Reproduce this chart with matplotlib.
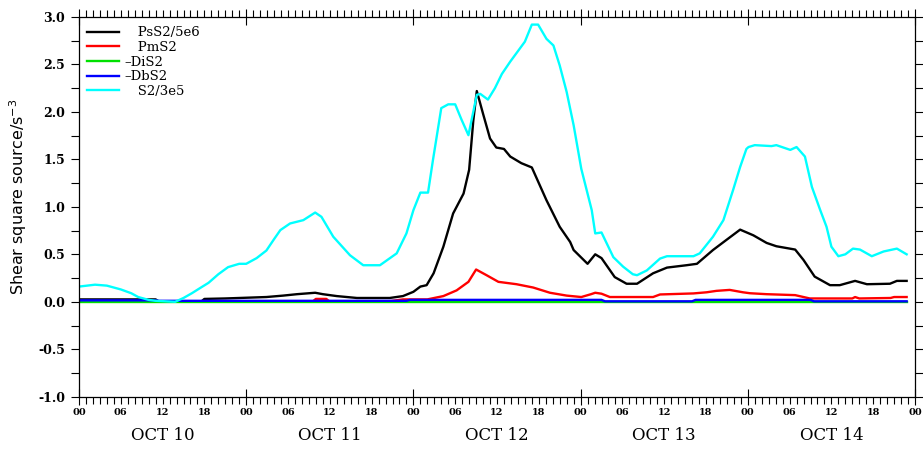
import matplotlib
matplotlib.use("Agg")
import matplotlib.pyplot as plt
from matplotlib.ticker import MultipleLocator, FuncFormatter

# hours since OCT 10 00Z
cyan_h = [0, 2.3, 4, 6, 7.5, 8.5, 10, 11, 13.8, 15, 16.2, 17.5, 18.6, 20, 21.4, 23, 24,
          25.5, 26.9, 28, 28.9, 30.3, 32.2, 33.9, 34.8, 36.5, 38.9, 40.8, 43.2, 45.6,
          47, 48, 49, 50.1, 50.8, 52, 53, 54, 54.9, 55.9, 57.1, 57.6, 58.7, 59.7, 60.7,
          61.9, 63, 64, 65, 65.9, 67.1, 68.1, 69, 70, 71, 72.1, 73.6, 74.1, 75, 76.7,
          78.1, 79.5, 80.1, 81.5, 83.4, 84.4, 88.2, 89.1, 91, 92.5, 93.9, 94.9, 95.8,
          96.1, 97, 99.4, 100.1, 102.1, 103, 104.2, 105.2, 106.4, 107.3, 108, 109, 110,
          111.1, 112.1, 113.8, 115.5, 117.4, 118.8]
cyan_v = [0.16, 0.18, 0.17, 0.13, 0.09, 0.05, 0.02, 0.01, 0.0, 0.04, 0.09, 0.15, 0.2,
          0.29, 0.365, 0.40, 0.40, 0.46, 0.54, 0.66, 0.755, 0.825, 0.86, 0.94, 0.895,
          0.685, 0.49, 0.385, 0.385, 0.51, 0.72, 0.965, 1.15, 1.15, 1.49, 2.04, 2.08,
          2.08, 1.92, 1.755, 2.18, 2.19, 2.13, 2.25, 2.40, 2.53, 2.64, 2.74, 2.92, 2.92,
          2.77, 2.70, 2.49, 2.21, 1.86, 1.40, 0.965, 0.72, 0.73, 0.47, 0.37, 0.29, 0.28,
          0.33, 0.455, 0.48, 0.48, 0.51, 0.685, 0.86, 1.18, 1.42, 1.61, 1.63, 1.65,
          1.64, 1.65, 1.60, 1.63, 1.53, 1.21, 0.965, 0.79, 0.58, 0.48, 0.50, 0.56, 0.55,
          0.48, 0.53, 0.56, 0.50]

black_h = [0, 11, 11.5, 17.5, 18, 21, 23, 26.9, 29.3, 31.3, 33.9, 35, 37, 39.9, 44.6,
           46.5, 48, 49, 49.9, 50.9, 52.3, 53.7, 55.2, 56, 56.6, 57.1, 58, 59, 59.9, 61,
           61.9, 63.5, 65, 67.1, 69, 70.5, 71, 73, 74.1, 75, 76.9, 78.6, 80.1, 82.4,
           84.4, 87.2, 88.7, 91, 92.9, 94.9, 96.8, 98.7, 100.1, 102.8, 104, 105.6, 107.8,
           109.2, 111.4, 113.1, 116.4, 117.4, 118.8]
black_v = [0.025, 0.025, 0.0, 0.0, 0.03, 0.035, 0.04, 0.05, 0.065, 0.08, 0.095, 0.08,
           0.06, 0.04, 0.04, 0.06, 0.105, 0.16, 0.175, 0.30, 0.58, 0.93, 1.14, 1.39, 1.91,
           2.22, 1.98, 1.72, 1.625, 1.61, 1.53, 1.46, 1.415, 1.07, 0.79, 0.63, 0.545,
           0.40, 0.50, 0.46, 0.26, 0.19, 0.19, 0.30, 0.36, 0.385, 0.40, 0.545, 0.65, 0.76,
           0.70, 0.62, 0.585, 0.55, 0.44, 0.265, 0.175, 0.175, 0.22, 0.185, 0.19, 0.22,
           0.22]

red_h = [0, 33.5, 34, 35.5, 36, 44, 46.5, 50, 52.3, 54.2, 55.9, 57, 58.5, 60.2, 62.8,
         65.2, 67.6, 70, 72.1, 73.5, 74.1, 75, 76.2, 82.4, 83.4, 88.2, 90.1, 91.5, 93.4,
         95.3, 96.3, 98.7, 102.8, 104.9, 111, 111.4, 112, 116.5, 117, 118.8]
red_v = [0.0, 0.0, 0.03, 0.03, 0.0, 0.0, 0.025, 0.025, 0.06, 0.12, 0.21, 0.34, 0.28,
         0.21, 0.185, 0.15, 0.095, 0.065, 0.05, 0.08, 0.095, 0.085, 0.05, 0.05, 0.077,
         0.088, 0.10, 0.115, 0.125, 0.10, 0.09, 0.08, 0.07, 0.035, 0.035, 0.05, 0.035,
         0.04, 0.05, 0.05]

green_h = [0, 24, 48, 72, 96, 118.8]
green_v = [0.0, 0.0, 0.0, 0.0, 0.0, 0.0]

blue_h = [0, 11, 11.5, 47, 47.5, 75, 75.5, 88, 88.5, 105, 105.5, 118.8]
blue_v = [0.015, 0.015, 0.01, 0.01, 0.02, 0.02, 0.005, 0.005, 0.02, 0.02, 0.005, 0.005]

series = [
    ("   PsS2/5e6", black_h, black_v, "black"),
    ("   PmS2", red_h, red_v, "#ff0000"),
    ("\u2013DiS2", green_h, green_v, "#00e000"),
    ("\u2013DbS2", blue_h, blue_v, "#0000ff"),
    ("   S2/3e5", cyan_h, cyan_v, "#00ffff"),
]

days = ["OCT 10", "OCT 11", "OCT 12", "OCT 13", "OCT 14"]

fig = plt.figure(figsize=(9.23, 4.49), dpi=100)
ax = fig.add_axes([79 / 923, 1 - 396.7 / 449, 836 / 923, 379.7 / 449])

for label, h, v, c in series:
    ax.plot(h, v, color=c, lw=1.7, label=label)

ax.set_xlim(0, 120)
ax.set_ylim(-1.0, 3.0)

# x axis: days as major, hours as minor, labels every 6 h
ax.xaxis.set_major_locator(MultipleLocator(24))
ax.xaxis.set_minor_locator(MultipleLocator(1))
ax.xaxis.set_major_formatter(FuncFormatter(lambda x, p: "00"))
ax.xaxis.set_minor_formatter(
    FuncFormatter(lambda x, p: "%02d" % (int(round(x)) % 24) if int(round(x)) % 6 == 0 else ""))
ax.tick_params(axis="x", which="minor", direction="out", length=5, width=0.8,
               top=True, pad=3, labelsize=7)
ax.tick_params(axis="x", which="major", direction="inout", length=12, width=0.8,
               top=True, pad=2, labelsize=7)
for t in ax.get_xticklabels(which="both"):
    t.set_fontfamily("DejaVu Serif")
    t.set_fontweight("bold")

# y axis
ax.yaxis.set_major_locator(MultipleLocator(0.5))
ax.yaxis.set_minor_locator(MultipleLocator(0.25))
ax.yaxis.set_major_formatter(FuncFormatter(lambda y, p: "%.1f" % y))
ax.tick_params(axis="y", which="both", direction="out", length=6, width=0.8,
               right=True, labelsize=9, pad=4)
for t in ax.get_yticklabels():
    t.set_fontfamily("DejaVu Serif")
    t.set_fontweight("bold")

for s in ax.spines.values():
    s.set_linewidth(0.9)

ax.set_ylabel("Shear square source/s$^{-3}$", fontsize=11.5, family="DejaVu Sans")
ax.yaxis.label.set_verticalalignment("center")
ax.yaxis.set_label_coords(-0.073, 0.526)

for i, d in enumerate(days):
    ax.text(12 + 24 * i, -0.1035, d, transform=ax.get_xaxis_transform(),
            ha="center", va="center", fontsize=12, family="DejaVu Serif")

ax.legend(loc="upper left", bbox_to_anchor=(0.0096, 0.975), frameon=False,
          borderpad=0, borderaxespad=0, handlelength=2.4, handletextpad=0.45,
          labelspacing=0.12, prop=dict(family="DejaVu Serif", size=9.5))

fig.savefig("out.png", dpi=100)
